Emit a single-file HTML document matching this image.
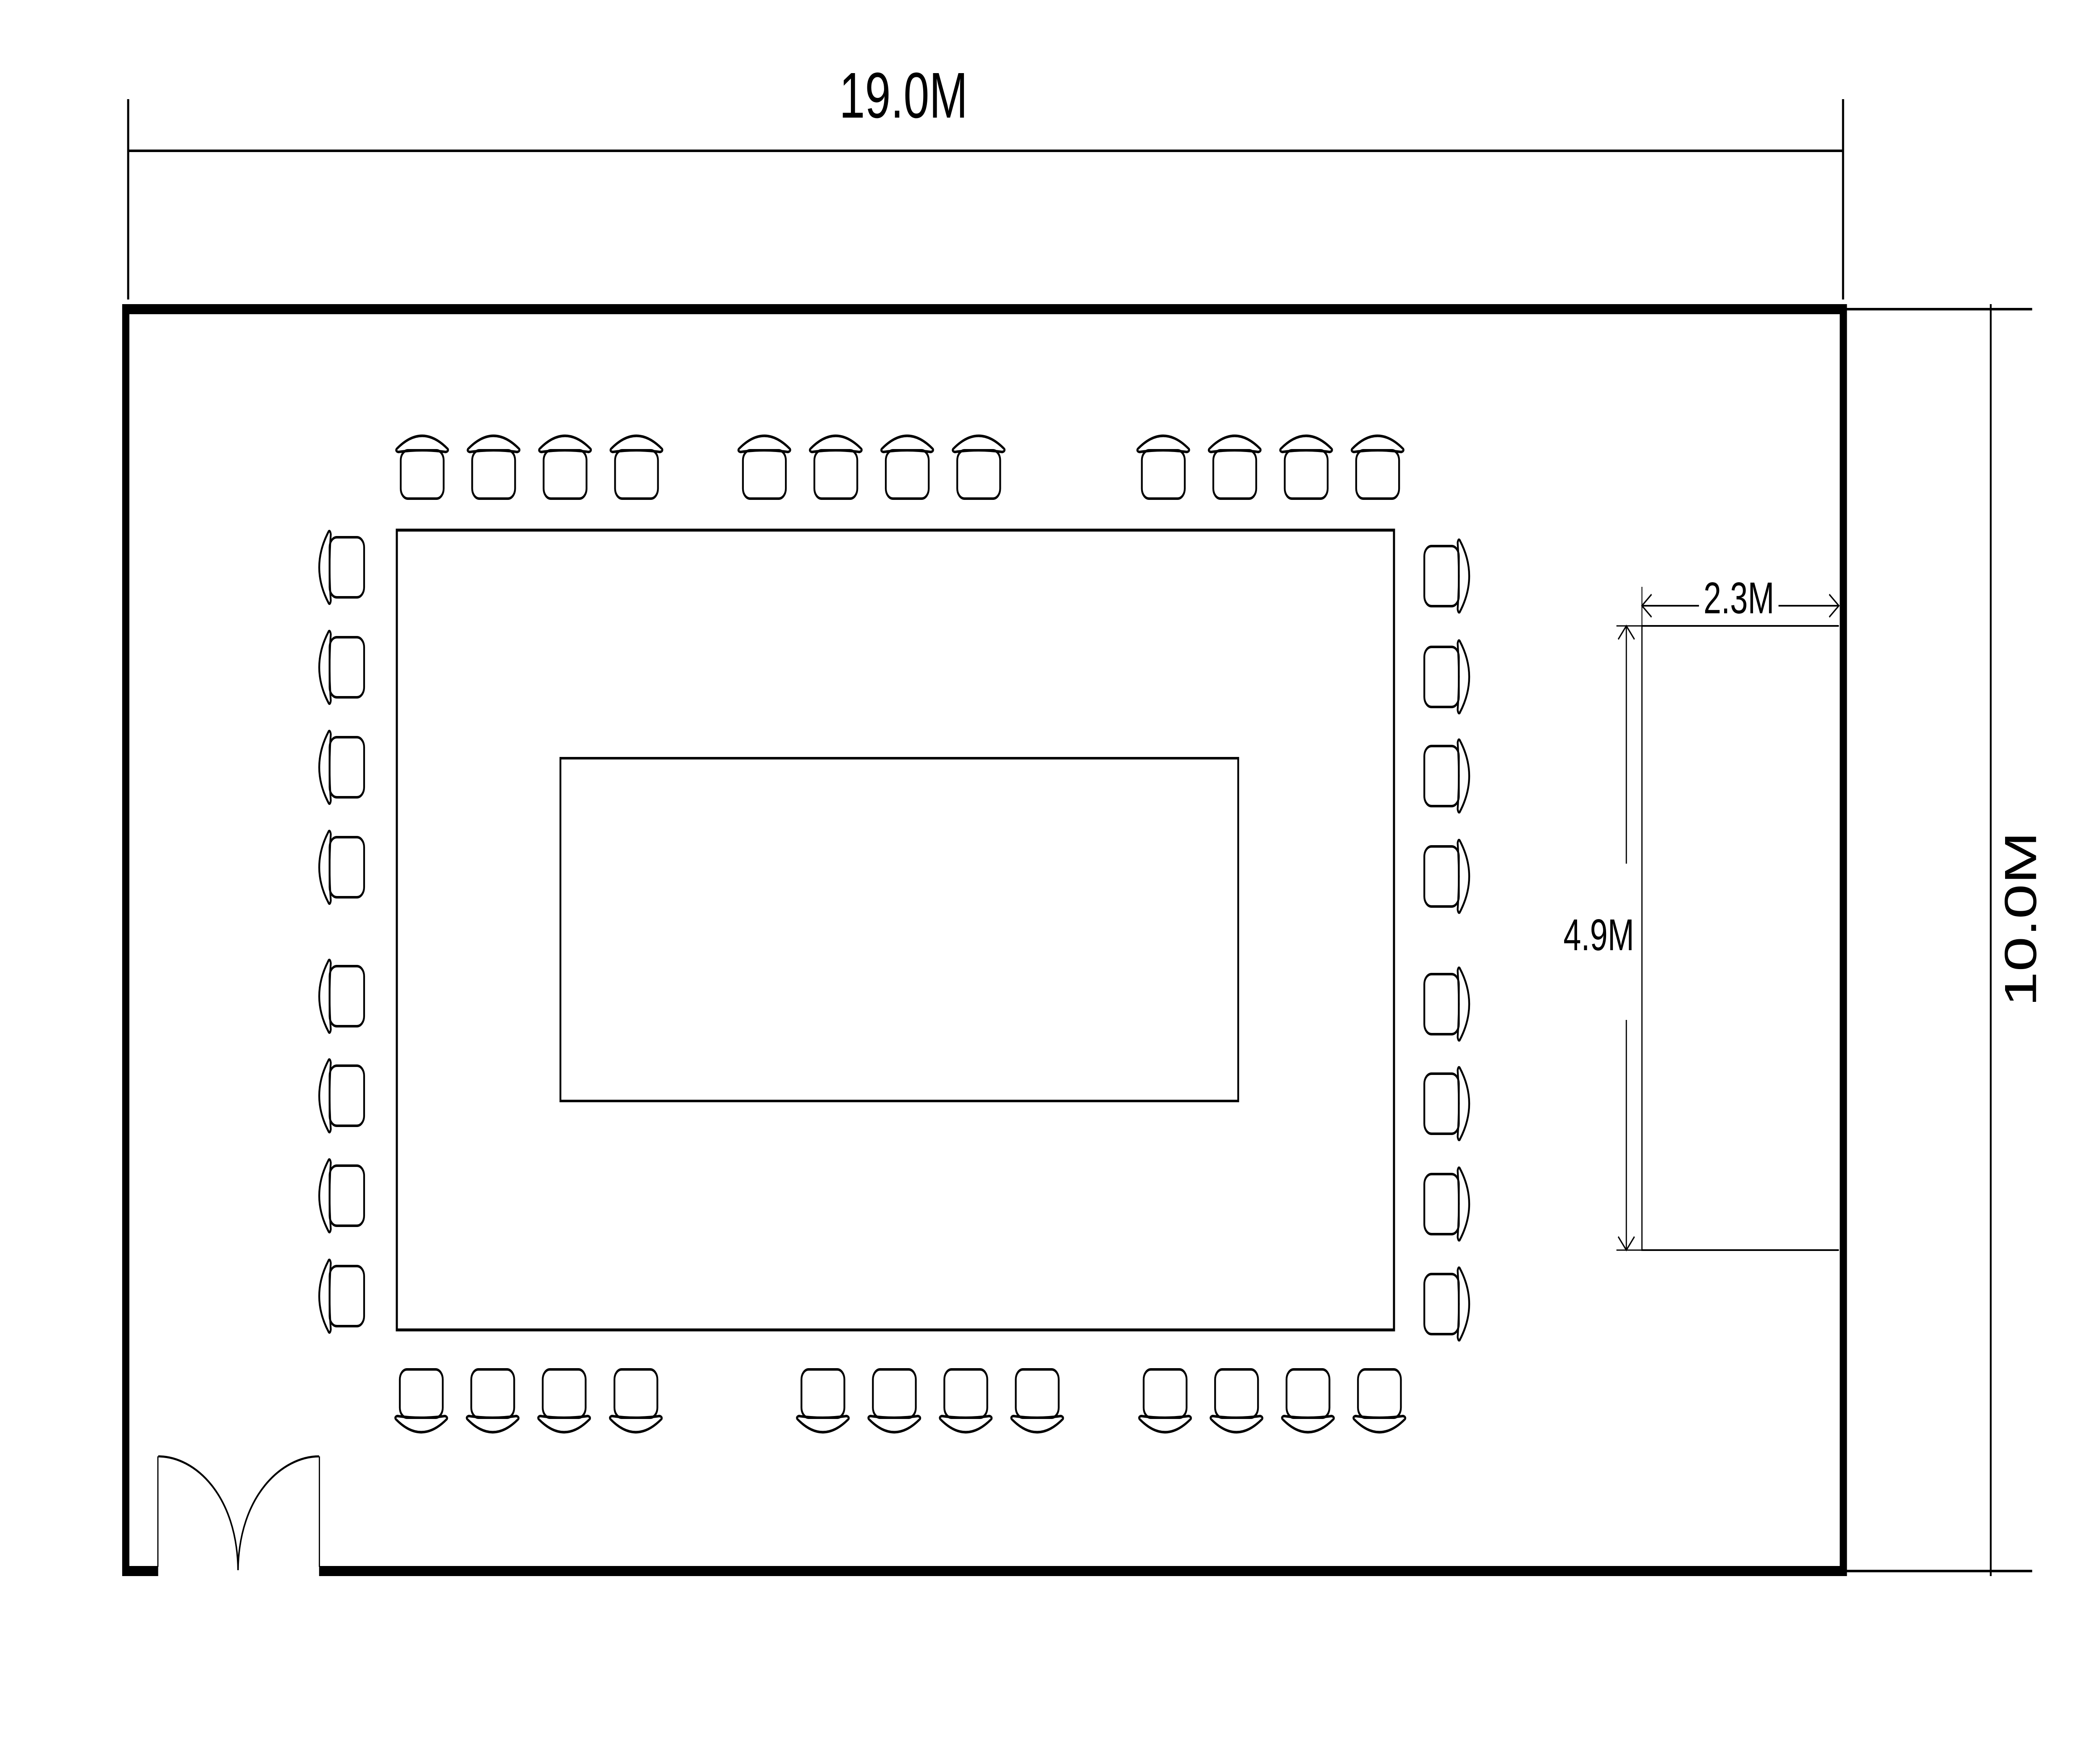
<!DOCTYPE html>
<html><head><meta charset="utf-8"><style>html,body{margin:0;padding:0;background:#fff;width:100%;height:100%;overflow:hidden}svg{position:fixed;left:0;top:0;width:100vw;height:100vh;display:block}</style></head>
<body>
<svg viewBox="0 0 6996 4147" preserveAspectRatio="none" xmlns="http://www.w3.org/2000/svg">
<defs>
<g id="ch" fill="none" stroke="#000" stroke-width="6">
<rect x="0" y="36" width="143" height="115" rx="24"/>
<path d="M-14,33 Q71,-30 157,33 Q160,38 150,40 Q71,32 -8,40 Q-18,38 -14,33 Z"/>
<path d="M-8,40 Q71,30 150,40" stroke-width="4"/>
</g>
</defs>
<rect width="6996" height="4147" fill="#fff"/>
<g stroke="#000" fill="none">
<line x1="427" y1="359" x2="6140" y2="359" stroke-width="6"/>
<line x1="427" y1="236" x2="427" y2="713" stroke-width="7"/>
<line x1="6140" y1="236" x2="6140" y2="713" stroke-width="7"/>
<line x1="6632" y1="724" x2="6632" y2="3752" stroke-width="6"/>
<line x1="6153" y1="736" x2="6770" y2="736" stroke-width="6"/>
<line x1="6153" y1="3740" x2="6770" y2="3740" stroke-width="6"/>
<path d="M527,3740 L419,3740 L419,736 L6141,736 L6141,3740 L1063,3740" stroke-width="24"/>
<line x1="526" y1="3467" x2="526" y2="3730" stroke-width="4"/>
<line x1="1064" y1="3467" x2="1064" y2="3730" stroke-width="4"/>
<path d="M527,3467 C650,3467 790,3560 793,3738" stroke-width="5"/>
<path d="M1063,3467 C940,3467 796,3560 793,3738" stroke-width="5"/>
<rect x="1322" y="1262" width="3322" height="1904" stroke-width="7"/>
<rect x="1867" y="1805" width="2258" height="816" stroke-width="6"/>
<path d="M6126,1490 L5470,1490 L5470,2976 L6126,2976" stroke-width="4"/>
<line x1="5470" y1="1397" x2="5470" y2="1490" stroke-width="3"/>
<line x1="5470" y1="1442" x2="5660" y2="1442" stroke-width="4"/>
<line x1="5925" y1="1442" x2="6126" y2="1442" stroke-width="4"/>
<path d="M5502,1415 L5470,1442 L5502,1469" stroke-width="4"/>
<path d="M6094,1415 L6126,1442 L6094,1469" stroke-width="4"/>
<line x1="5385" y1="1490" x2="5470" y2="1490" stroke-width="3"/>
<line x1="5385" y1="2976" x2="5470" y2="2976" stroke-width="3"/>
<line x1="5418" y1="1490" x2="5418" y2="2056" stroke-width="4"/>
<line x1="5418" y1="2428" x2="5418" y2="2976" stroke-width="4"/>
<path d="M5391,1522 L5418,1490 L5445,1522" stroke-width="4"/>
<path d="M5391,2944 L5418,2976 L5445,2944" stroke-width="4"/>
</g>
<use href="#ch" transform="translate(1335,1036)"/>
<use href="#ch" transform="translate(1573,1036)"/>
<use href="#ch" transform="translate(1811,1036)"/>
<use href="#ch" transform="translate(2049,1036)"/>
<use href="#ch" transform="translate(2475,1036)"/>
<use href="#ch" transform="translate(2713,1036)"/>
<use href="#ch" transform="translate(2951,1036)"/>
<use href="#ch" transform="translate(3189,1036)"/>
<use href="#ch" transform="translate(3804,1036)"/>
<use href="#ch" transform="translate(4042,1036)"/>
<use href="#ch" transform="translate(4280,1036)"/>
<use href="#ch" transform="translate(4518,1036)"/>
<use href="#ch" transform="translate(1332,3411) scale(1,-1)"/>
<use href="#ch" transform="translate(1570,3411) scale(1,-1)"/>
<use href="#ch" transform="translate(1808,3411) scale(1,-1)"/>
<use href="#ch" transform="translate(2047,3411) scale(1,-1)"/>
<use href="#ch" transform="translate(2670,3411) scale(1,-1)"/>
<use href="#ch" transform="translate(2908,3411) scale(1,-1)"/>
<use href="#ch" transform="translate(3146,3411) scale(1,-1)"/>
<use href="#ch" transform="translate(3384,3411) scale(1,-1)"/>
<use href="#ch" transform="translate(3810,3411) scale(1,-1)"/>
<use href="#ch" transform="translate(4048,3411) scale(1,-1)"/>
<use href="#ch" transform="translate(4286,3411) scale(1,-1)"/>
<use href="#ch" transform="translate(4524,3411) scale(1,-1)"/>
<use href="#ch" transform="translate(1062,1422) rotate(-90)"/>
<use href="#ch" transform="translate(1062,1660) rotate(-90)"/>
<use href="#ch" transform="translate(1062,1898) rotate(-90)"/>
<use href="#ch" transform="translate(1062,2136) rotate(-90)"/>
<use href="#ch" transform="translate(1062,2443) rotate(-90)"/>
<use href="#ch" transform="translate(1062,2680) rotate(-90)"/>
<use href="#ch" transform="translate(1062,2918) rotate(-90)"/>
<use href="#ch" transform="translate(1062,3157) rotate(-90)"/>
<use href="#ch" transform="translate(4896,1300) rotate(90)"/>
<use href="#ch" transform="translate(4896,1540) rotate(90)"/>
<use href="#ch" transform="translate(4896,1776) rotate(90)"/>
<use href="#ch" transform="translate(4896,2015) rotate(90)"/>
<use href="#ch" transform="translate(4896,2319) rotate(90)"/>
<use href="#ch" transform="translate(4896,2556) rotate(90)"/>
<use href="#ch" transform="translate(4896,2795) rotate(90)"/>
<use href="#ch" transform="translate(4896,3033) rotate(90)"/>
<g font-family="Liberation Sans, sans-serif" fill="#000">
<text x="3010" y="280" font-size="154" text-anchor="middle">19.0M</text>
<text x="0" y="0" font-size="150" text-anchor="middle" transform="translate(6783,2188) rotate(-90)">10.0M</text>
<text x="5793" y="1460" font-size="106" text-anchor="middle">2.3M</text>
<text x="5444" y="2262" font-size="106" text-anchor="end">4.9M</text>
</g>
</svg>
</body></html>
